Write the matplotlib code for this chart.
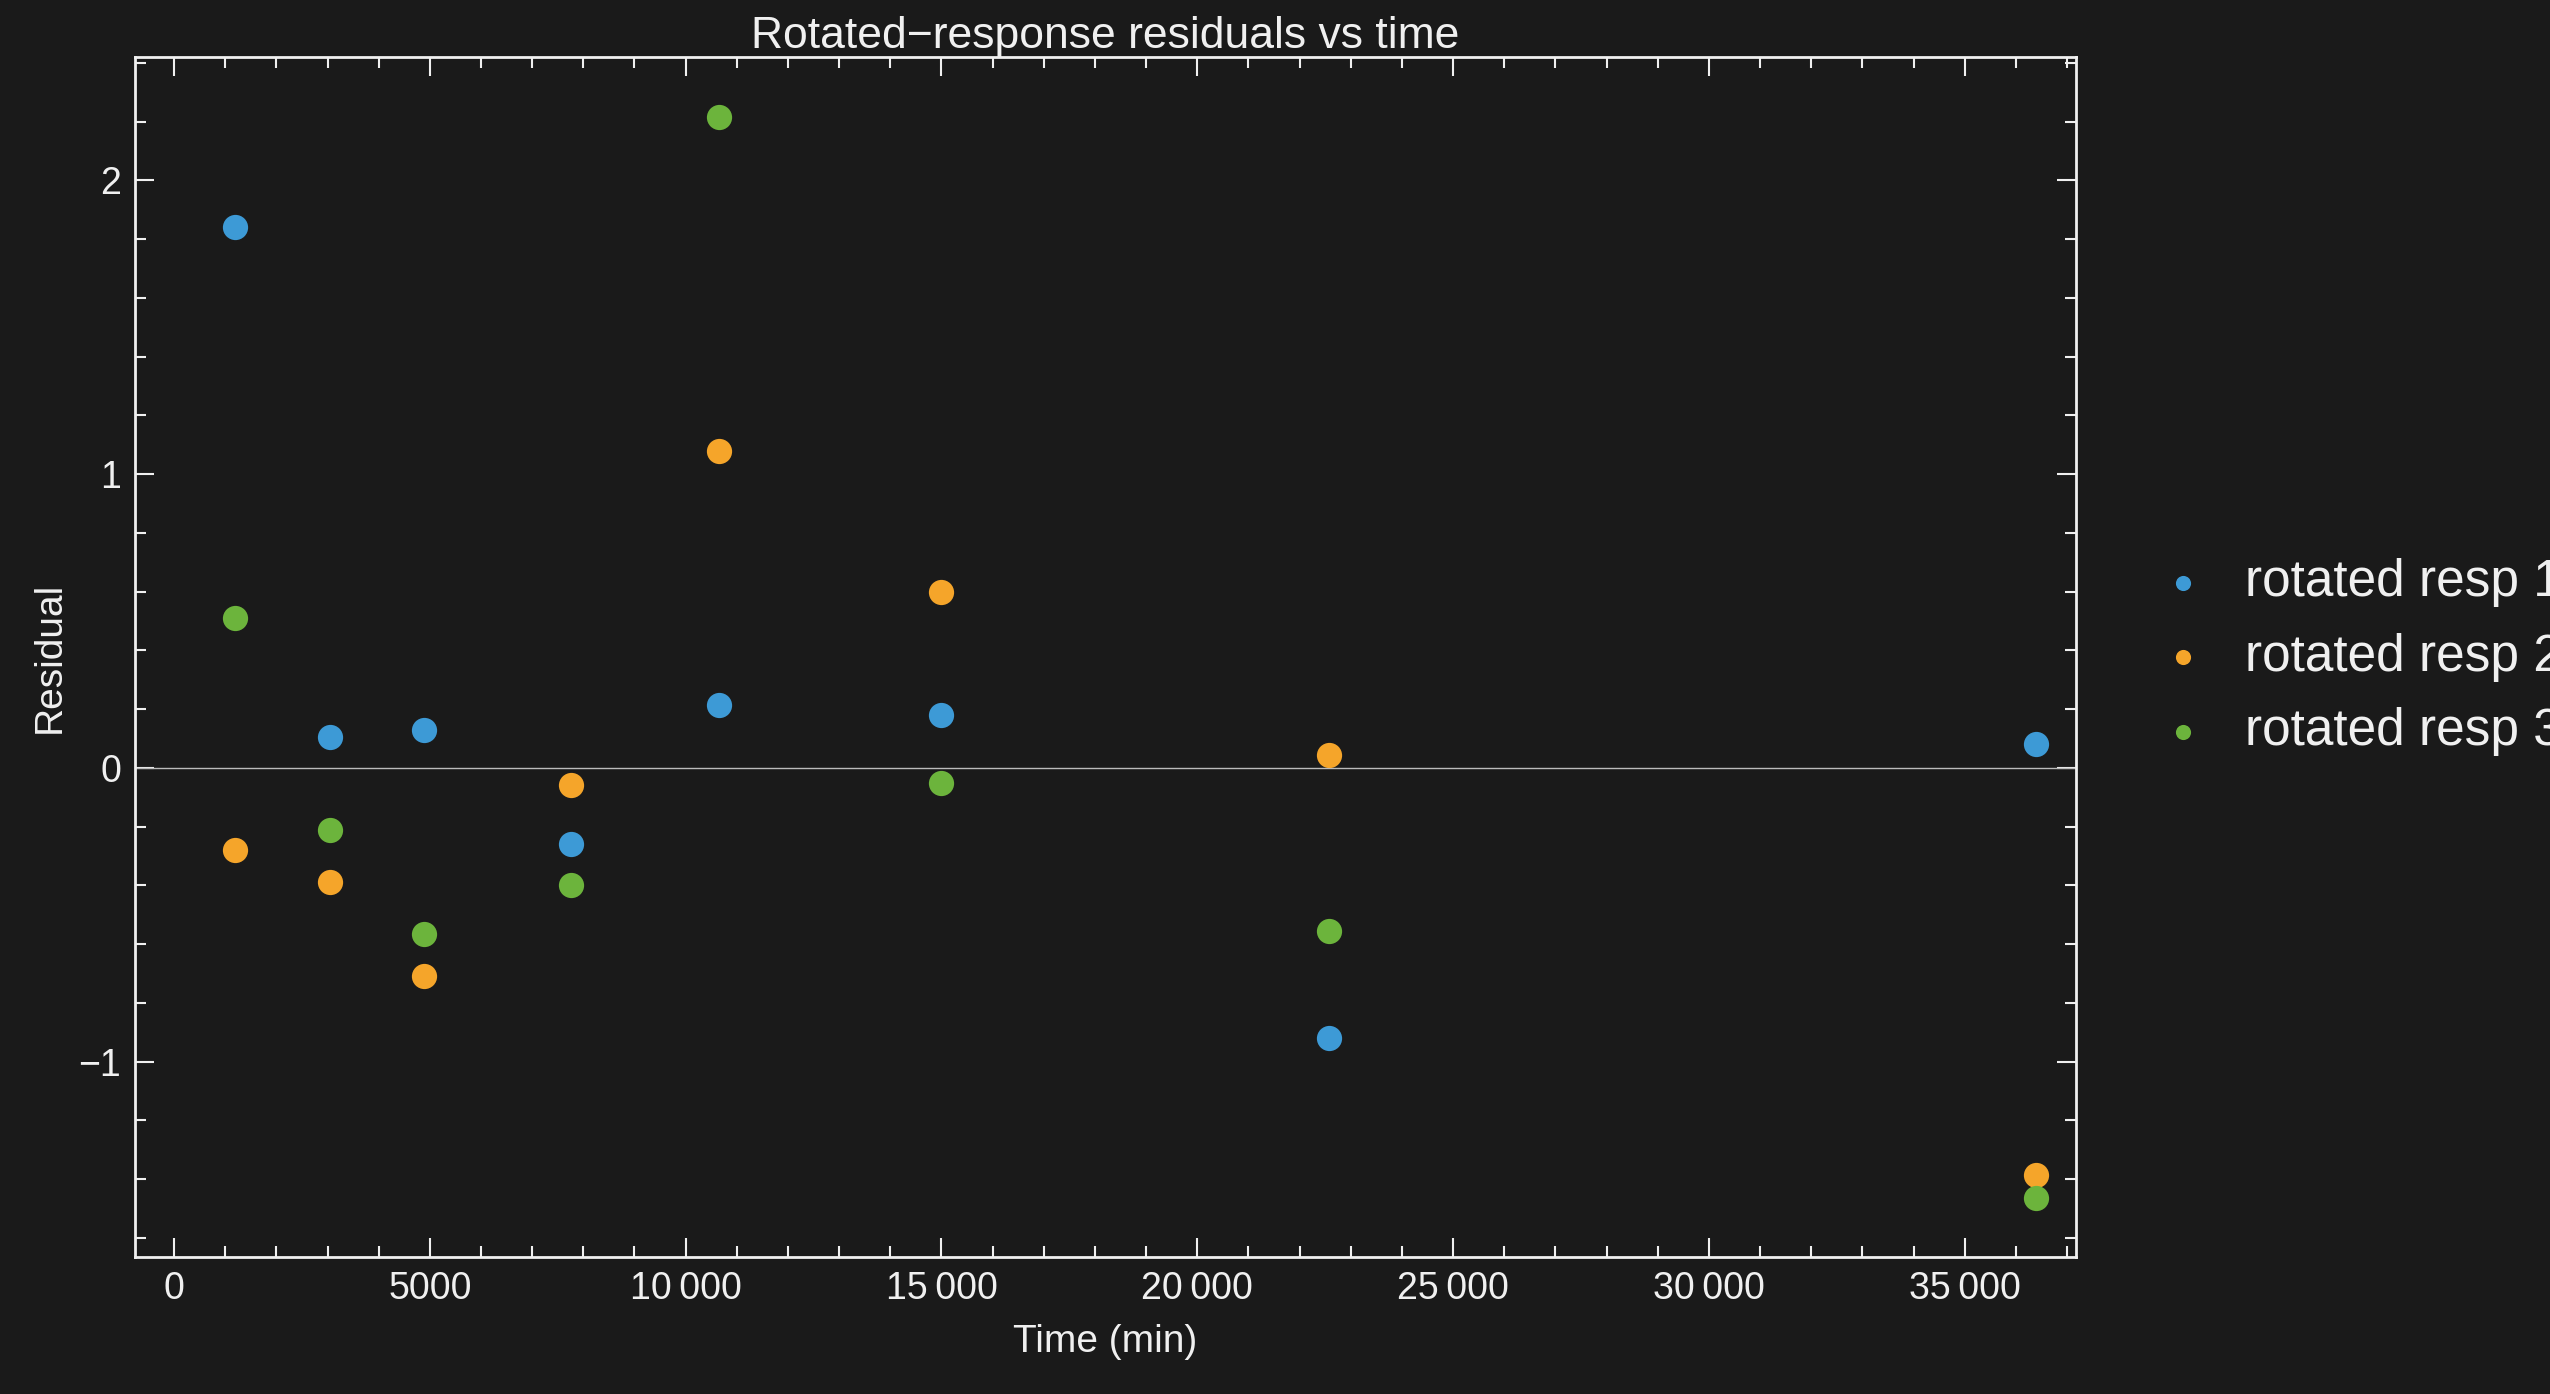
import matplotlib
matplotlib.use("Agg")
import matplotlib.pyplot as plt
from matplotlib.ticker import MultipleLocator, FuncFormatter

times = [1200, 3040, 4890, 7760, 10650, 14990, 22580, 36400]
resp1 = [1.84, 0.105, 0.13, -0.26, 0.215, 0.18, -0.92, 0.08]
resp2 = [-0.28, -0.39, -0.71, -0.06, 1.08, 0.60, 0.045, -1.385]
resp3 = [0.51, -0.21, -0.565, -0.40, 2.215, -0.05, -0.555, -1.465]
labels = ["rotated resp 1", "rotated resp 2", "rotated resp 3"]
colors = ["#3d9ad6", "#f5a52a", "#6cb43c"]

bg = "#1a1a1a"
fg = "#f0f0f0"
plt.rcParams.update({"font.family": ["Liberation Sans", "DejaVu Sans"], "text.color": fg})
fig = plt.figure(figsize=(25.5, 13.94), dpi=100, facecolor=bg)
ax = fig.add_axes([0.053, 0.098, 0.761, 0.861], facecolor=bg)

for ys, c, lab in zip([resp1, resp2, resp3], colors, labels):
    ax.scatter(times, ys, s=330, color=c, label=lab, zorder=3, linewidths=0)
ax.axhline(0, color="#bbbbbb", lw=1)

ax.set_xlim(-760, 37170)
ax.set_ylim(-1.667, 2.42)
ax.xaxis.set_major_locator(MultipleLocator(5000))
ax.xaxis.set_minor_locator(MultipleLocator(1000))
ax.yaxis.set_major_locator(MultipleLocator(1))
ax.yaxis.set_minor_locator(MultipleLocator(0.2))
ax.xaxis.set_major_formatter(FuncFormatter(
    lambda v, p: f"{int(v):,}".replace(",", "\u2009") if v >= 10000 else f"{int(v)}"))
ax.yaxis.set_major_formatter(FuncFormatter(lambda v, p: f"{int(v)}".replace("-", "\u2212")))
ax.tick_params(which="both", direction="in", colors=fg, top=True, right=True, labelsize=27, width=1.5)
ax.tick_params(which="major", length=14, pad=10)
ax.tick_params(which="minor", length=8)
for s in ax.spines.values():
    s.set_color(fg)
    s.set_linewidth(2)
ax.set_xlabel("Time (min)", fontsize=28, color=fg, labelpad=12)
ax.set_ylabel("Residual", fontsize=28, color=fg, labelpad=8)
ax.set_title("Rotated\u2212response residuals vs time", fontsize=32, color=fg, pad=4)
ax.legend(loc="center left", bbox_to_anchor=(1.005, 0.5), frameon=False, fontsize=37,
          markerscale=0.6, handletextpad=0.2, labelspacing=0.5, labelcolor=fg)
fig.savefig("out.png", facecolor=bg)
